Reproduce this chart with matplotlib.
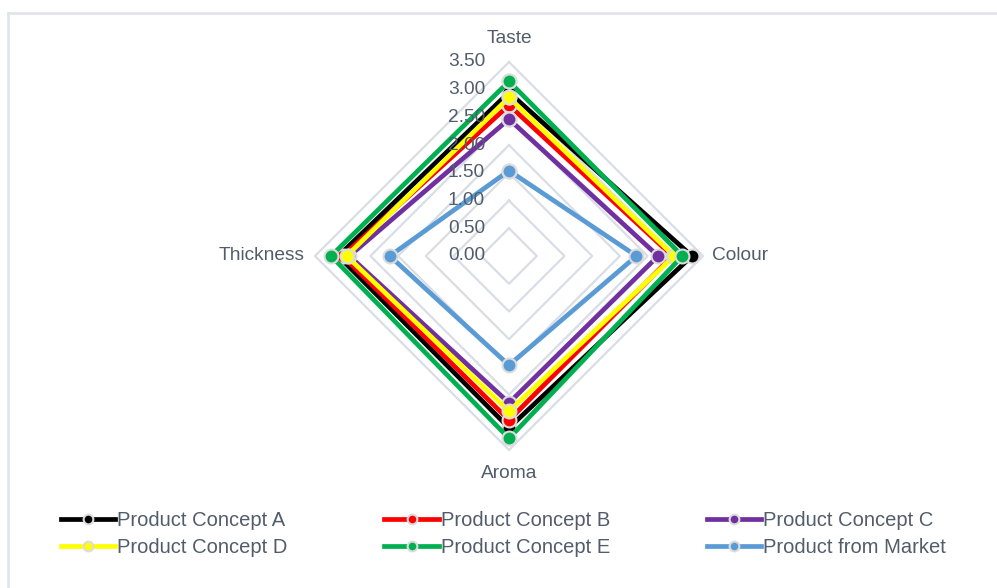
import numpy as np
import matplotlib
matplotlib.use('Agg')
import matplotlib.pyplot as plt
import matplotlib.transforms as mtransforms
from matplotlib.lines import Line2D

# categories clockwise from the top
cats = ['Taste', 'Colour', 'Aroma', 'Thickness']

concept_a = [2.95, 3.30, 3.10, 3.08]
concept_b = [2.72, 2.95, 2.96, 3.00]
concept_c = [2.47, 2.69, 2.65, 2.88]
concept_d = [2.86, 2.98, 2.80, 2.93]
concept_e = [3.15, 3.13, 3.29, 3.21]
market = [1.54, 2.30, 1.97, 2.15]

names = ['Product Concept A', 'Product Concept B', 'Product Concept C',
         'Product Concept D', 'Product Concept E', 'Product from Market']
colors = ['#000000', '#ff0000', '#7030a0', '#ffff00', '#00b050', '#5b9bd5']

ring_vals = [0.5, 1.0, 1.5, 2.0, 2.5, 3.0, 3.5]
tick_vals = [0.0, 0.5, 1.0, 1.5, 2.0, 2.5, 3.0, 3.5]

txt = '#525c6a'
gridc = '#d9dee6'
plt.rcParams['font.family'] = ['Liberation Sans', 'DejaVu Sans']

W, H = 997, 588
fig = plt.figure(figsize=(W / 100, H / 100), dpi=100)

# polar axes centred at (509, 256) px with radius 194 px
cx, cy, rad = 509, 256, 194
ax = fig.add_axes([(cx - rad) / W, (H - cy - rad) / H, 2 * rad / W, 2 * rad / H],
                  projection='polar')
ax.set_theta_offset(np.pi / 2)
ax.set_theta_direction(-1)
ax.set_ylim(0, 3.5)
ax.grid(False)
ax.spines['polar'].set_visible(False)
ax.set_xticks([])
ax.set_yticks([])
ax.patch.set_alpha(0)

angles = np.linspace(0, 2 * np.pi, len(cats), endpoint=False)
ang_closed = np.append(angles, angles[0])

# diamond grid rings
for r in ring_vals:
    ax.plot(ang_closed, [r] * len(ang_closed), color=gridc, lw=1.6, zorder=1,
            clip_on=False)

# radial tick labels left of the Taste axis
tr = mtransforms.offset_copy(ax.transData, fig=fig, x=-24, y=0, units='dots')
for v in tick_vals:
    ax.text(0, v, '%.2f' % v, transform=tr, ha='right', va='center',
            fontsize=13.8, color=txt, zorder=6)

# category labels
ax.text(0, 3.93, cats[0], ha='center', va='center', fontsize=13.8, color=txt)
ax.text(angles[1], 3.66, cats[1], ha='left', va='center', fontsize=13.8, color=txt)
ax.text(angles[2], 3.92, cats[2], ha='center', va='center', fontsize=13.8, color=txt)
ax.text(angles[3], 3.68, cats[3], ha='right', va='center', fontsize=13.8, color=txt)

series = [concept_a, concept_b, concept_c, concept_d, concept_e, market]
handles = []
for vals, name, col in zip(series, names, colors):
    v = vals + vals[:1]
    ln, = ax.plot(ang_closed, v, color=col, lw=3.4, marker='o', markersize=10,
                  markerfacecolor=col, markeredgecolor='#dcdcdc', markeredgewidth=1.5,
                  solid_joinstyle='round', zorder=3, clip_on=False, label=name)
    handles.append(ln)

# legend: row-wise order A B C / D E Market
order = [0, 3, 1, 4, 2, 5]
leg = fig.legend([handles[i] for i in order], [names[i] for i in order],
                 loc='upper left', bbox_to_anchor=(61 / W, 1 - 511 / H), ncol=3,
                 frameon=False, fontsize=14.5, handlelength=2.7, handletextpad=0.1,
                 columnspacing=4.8, labelspacing=0.42, borderaxespad=0,
                 borderpad=0, markerscale=0.7)
for t in leg.get_texts():
    t.set_color(txt)

# chart area border (top and left edges)
fig.add_artist(Line2D([8 / W, 1.0], [1 - 13 / H, 1 - 13 / H], color='#dfe4ea', lw=1.8,
                      transform=fig.transFigure))
fig.add_artist(Line2D([8 / W, 8 / W], [0, 1 - 13 / H], color='#dfe4ea', lw=1.8,
                      transform=fig.transFigure))

fig.savefig('out.png', dpi=100)
